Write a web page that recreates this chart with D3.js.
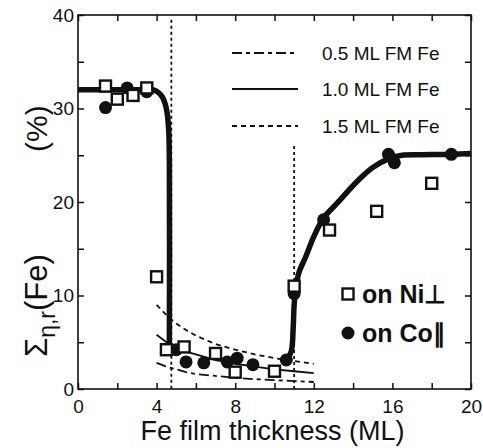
<!DOCTYPE html>
<html><head><meta charset="utf-8">
<script src="https://cdn.jsdelivr.net/npm/d3@7"></script>
<style>body{margin:0;background:#fff}svg{display:block}text{font-family:"Liberation Sans",Arial,sans-serif;fill:#111}</style>
</head><body><div id="c"></div>
<script>
// Data
const niX = [1.4, 2.0, 2.8, 3.5, 4.0, 4.5, 5.4, 7.0, 8.0, 10.0, 11.0, 12.8, 15.2, 18.0];
const niY = [32.4, 31.0, 31.4, 32.2, 12.0, 4.2, 4.5, 3.8, 1.8, 1.9, 11.0, 17.0, 19.0, 22.0];
const coX = [1.4, 2.5, 3.5, 5.0, 5.5, 6.4, 7.6, 8.1, 8.9, 10.6, 11.0, 12.5, 15.8, 16.1, 19.0];
const coY = [30.1, 32.2, 31.8, 4.2, 2.9, 2.8, 2.9, 3.3, 2.6, 3.1, 10.2, 18.1, 25.1, 24.2, 25.1];
const thickLX = [0, 1, 2, 3, 3.5, 3.8, 4.1, 4.3, 4.45, 4.55, 4.62, 4.65, 4.65];
const thickLY = [32, 32, 32, 32, 32, 32, 31.7, 31.2, 30.4, 29.3, 27.5, 24, 4.7];
const thickRX = [10.6, 10.85, 10.95, 11.0, 11.1, 11.25, 11.6, 12.0, 12.5, 13.2, 14.2, 15.0, 15.9, 16.5, 17.5, 19.0, 20.0];
const thickRY = [3.0, 4.0, 6.5, 9.0, 11.0, 12.5, 14.2, 16.3, 18.3, 19.9, 22.2, 23.7, 24.7, 25.0, 25.05, 25.1, 25.2];
const fmX = [4.0, 4.5, 5.0, 5.5, 6.0, 7.0, 8.0, 9.0, 10.0, 11.0, 12.0];
const fm15Y = [9.0, 7.9, 7.0, 6.3, 5.7, 4.8, 4.2, 3.7, 3.3, 3.0, 2.7];
const fm10Y = [5.8, 5.0, 4.5, 4.0, 3.7, 3.1, 2.7, 2.4, 2.1, 1.9, 1.7];
const fm05Y = [2.8, 2.4, 2.1, 1.8, 1.6, 1.4, 1.2, 1.05, 0.95, 0.85, 0.75];
const vlineX = [4.75, 11.0];
const vlineTop = [39.5, 26.0];
const xTicks = [0, 4, 8, 12, 16, 20];
const yTicks = [0, 10, 20, 30, 40];
const legendLabels = ["0.5 ML FM Fe", "1.0 ML FM Fe", "1.5 ML FM Fe"];
const markerLabels = ["on Ni\u22A5", "on Co\u2225"];

const W = 483, H = 448;
const L = 78, R = 471, T = 15, B = 389;
const svg = d3.select("#c").append("svg").attr("width", W).attr("height", H);
const x = d3.scaleLinear().domain([0, 20]).range([L, R]);
const y = d3.scaleLinear().domain([0, 40]).range([B, T]);

// axes with inward ticks
const ax = (g, axis) => g.call(axis).call(s => s.select(".domain").remove());
const gx = svg.append("g").attr("transform", `translate(0,${B})`);
ax(gx, d3.axisBottom(x).tickValues(d3.range(0, 21, 2)).tickSize(-6).tickFormat(d => xTicks.includes(d) ? d : "").tickPadding(10));
const gxt = svg.append("g").attr("transform", `translate(0,${T})`);
ax(gxt, d3.axisTop(x).tickValues(d3.range(0, 21, 2)).tickSize(-6).tickFormat(""));
const gy = svg.append("g").attr("transform", `translate(${L},0)`);
ax(gy, d3.axisLeft(y).tickValues(d3.range(0, 41, 5)).tickSize(-6).tickFormat(d => yTicks.includes(d) ? d : "").tickPadding(4));
const gyr = svg.append("g").attr("transform", `translate(${R},0)`);
ax(gyr, d3.axisRight(y).tickValues(d3.range(0, 41, 5)).tickSize(-6).tickFormat(""));
svg.selectAll(".tick line").attr("stroke", "#111").attr("stroke-width", 1.5);
gx.selectAll("text").attr("font-size", 19).attr("fill", "#111").attr("dy", "0.75em");
gy.selectAll("text").attr("font-size", 19).attr("fill", "#111");
svg.append("rect").attr("x", L).attr("y", T).attr("width", R - L).attr("height", B - T)
  .attr("fill", "none").attr("stroke", "#111").attr("stroke-width", 1.6);

// vertical dotted lines
vlineX.forEach((v, i) => svg.append("line").attr("x1", x(v)).attr("x2", x(v))
  .attr("y1", y(vlineTop[i])).attr("y2", y(0)).attr("stroke", "#111")
  .attr("stroke-width", 1.8).attr("stroke-dasharray", "3,3"));

const line = d3.line().x(d => x(d[0])).y(d => y(d[1]));
const zip = (a, b) => a.map((v, i) => [v, b[i]]);
const styles = [
  {ys: fm05Y, dash: "10,4,4,4"},
  {ys: fm10Y, dash: null},
  {ys: fm15Y, dash: "5,4"}
];
styles.forEach(s => svg.append("path").attr("d", line(zip(fmX, s.ys)))
  .attr("fill", "none").attr("stroke", "#111").attr("stroke-width", 1.8)
  .attr("stroke-dasharray", s.dash));

const thick = d3.line().x(d => x(d[0])).y(d => y(d[1])).curve(d3.curveCatmullRom.alpha(0.5));
[zip(thickLX, thickLY), zip(thickRX, thickRY)].forEach(p => svg.append("path").attr("d", thick(p))
  .attr("fill", "none").attr("stroke", "#111").attr("stroke-width", 5.5).attr("stroke-linejoin", "round"));

// markers
svg.append("g").selectAll("circle").data(zip(coX, coY)).join("circle")
  .attr("cx", d => x(d[0])).attr("cy", d => y(d[1])).attr("r", 6.5).attr("fill", "#111");
svg.append("g").selectAll("rect").data(zip(niX, niY)).join("rect")
  .attr("x", d => x(d[0]) - 5.5).attr("y", d => y(d[1]) - 5.5).attr("width", 11).attr("height", 11)
  .attr("fill", "#fff").attr("stroke", "#111").attr("stroke-width", 2.4);

// legend lines
const legY = [53, 89, 126];
styles.forEach((s, i) => {
  svg.append("line").attr("x1", 232).attr("x2", 298).attr("y1", legY[i]).attr("y2", legY[i])
    .attr("stroke", "#111").attr("stroke-width", 1.8).attr("stroke-dasharray", s.dash);
  svg.append("text").attr("x", 322).attr("y", legY[i]).attr("dy", "0.35em").attr("font-size", 19).text(legendLabels[i]);
});
// marker legend
svg.append("rect").attr("x", 342.5).attr("y", 288.5).attr("width", 11).attr("height", 11)
  .attr("fill", "#fff").attr("stroke", "#111").attr("stroke-width", 2.4);
svg.append("circle").attr("cx", 348).attr("cy", 333).attr("r", 6.5).attr("fill", "#111");
markerLabels.forEach((t, i) => svg.append("text").attr("x", 362).attr("y", [294, 333][i]).attr("dy", "0.36em")
  .attr("font-size", 25).attr("font-weight", "bold").text(t));

// axis titles
svg.append("text").attr("x", (L + R) / 2 - 2).attr("y", 440).attr("text-anchor", "middle")
  .attr("font-size", 27).text("Fe film thickness (ML)");
const yl = svg.append("text").attr("transform", "translate(47,357) rotate(-90)").attr("font-size", 31);
yl.append("tspan").text("\u03A3");
yl.append("tspan").attr("font-size", 23).attr("dy", 8).text("\u03B7,r");
yl.append("tspan").attr("dy", -8).text("(Fe)");
svg.append("text").attr("transform", "translate(47,152) rotate(-90)").attr("font-size", 30).text("(%)");
</script></body></html>
